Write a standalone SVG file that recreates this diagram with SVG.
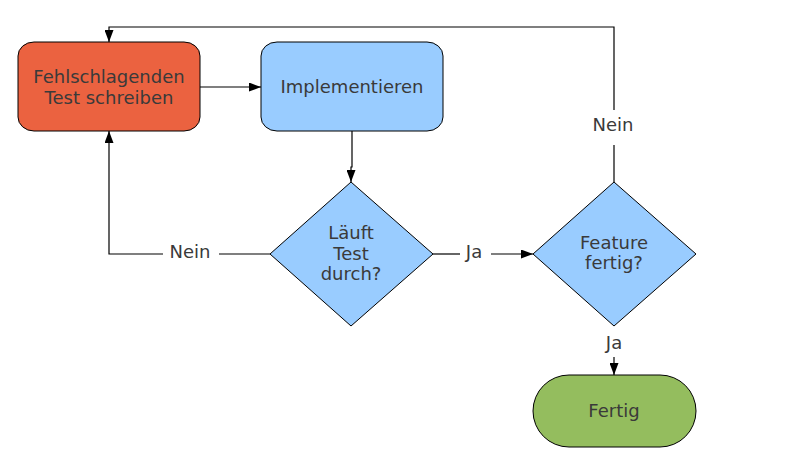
<svg xmlns="http://www.w3.org/2000/svg" width="800" height="467" viewBox="0 0 800 467">
<style>
.n{stroke:#000;stroke-width:1}
.t{font-family:"DejaVu Sans",sans-serif;font-size:18px;fill:#3a3a3a;text-anchor:middle}
.c{fill:none;stroke:#000;stroke-width:1.2}
</style>
<defs>
<marker id="a" viewBox="0 0 12 9" refX="12" refY="4.5" markerWidth="12" markerHeight="9" markerUnits="userSpaceOnUse" orient="auto">
<path d="M0,0 L12,4.5 L0,9 Z" fill="#000"/>
</marker>
</defs>
<rect width="800" height="467" fill="#fff"/>
<g id="connectors">
<path class="c" d="M200,87 H261" marker-end="url(#a)"/>
<path class="c" d="M352,131 V167 H351 V182" marker-end="url(#a)"/>
<path class="c" d="M270,254 H219"/>
<path class="c" d="M163,254 H109 V131" marker-end="url(#a)"/>
<path class="c" d="M433,254 H460"/>
<path class="c" d="M491,254 H533" marker-end="url(#a)"/>
<path class="c" d="M614,182 V145"/>
<path class="c" d="M614,110 V27 H109 V42" marker-end="url(#a)"/>
<path class="c" d="M614,357 V375" marker-end="url(#a)"/>
<text class="t" x="190" y="258">Nein</text>
<text class="t" x="474" y="258">Ja</text>
<text class="t" x="613" y="131">Nein</text>
<text class="t" x="614" y="349">Ja</text>
</g>
<g id="n1">
<rect class="n" x="18" y="42" width="182" height="89" rx="16" ry="14" fill="#EB6240"/>
<text class="t" x="109" y="83">Fehlschlagenden</text>
<text class="t" x="109" y="104">Test schreiben</text>
</g>
<g id="n2">
<rect class="n" x="261" y="42" width="182" height="89" rx="16" ry="14" fill="#99CCFF"/>
<text class="t" x="352" y="93">Implementieren</text>
</g>
<g id="n3">
<polygon class="n" points="351,182 433,254 351,326 270,254" fill="#99CCFF"/>
<text class="t" x="351" y="239">Läuft</text>
<text class="t" x="351" y="260">Test</text>
<text class="t" x="351" y="280">durch?</text>
</g>
<g id="n4">
<polygon class="n" points="614,182 696,254 614,326 533,254" fill="#99CCFF"/>
<text class="t" x="614" y="249">Feature</text>
<text class="t" x="614" y="269">fertig?</text>
</g>
<g id="n5">
<rect class="n" x="533" y="375" width="163" height="72" rx="36" ry="36" fill="#94BD5E"/>
<text class="t" x="614" y="417">Fertig</text>
</g>
</svg>
